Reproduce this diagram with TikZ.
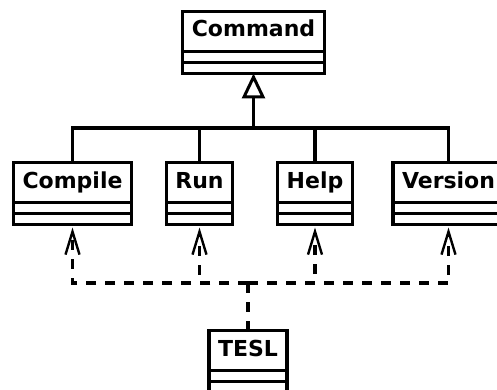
\documentclass[tikz,border=0pt]{standalone}
\usepackage{fontspec}
\setmainfont{DejaVu Sans}
\usetikzlibrary{arrows.meta}
\tikzset{
  cls/.style={draw, line width=3.2pt, outer sep=0pt, anchor=north,
    inner xsep=9pt, inner ysep=0pt, text height=25.5pt, text depth=36.5pt,
    font=\fontsize{22pt}{26pt}\selectfont\bfseries},
  inherit/.style={line width=3.2pt},
  depline/.style={line width=3.2pt, dash pattern=on 10pt off 9pt,
    -{Straight Barb[length=23pt,width=14pt,line width=2.4pt]}},
  depstem/.style={line width=3.2pt, dash pattern=on 10pt off 9pt},
}
\newcommand{\compartments}[1]{%
  \draw[line width=3.2pt] ([yshift=-40pt]#1.north west) -- ([yshift=-40pt]#1.north east);
  \draw[line width=3.2pt] ([yshift=-51pt]#1.north west) -- ([yshift=-51pt]#1.north east);}
\begin{document}
\begin{tikzpicture}[x=1pt,y=1pt]
\useasboundingbox (0,0) rectangle (497,-390);
\clip (0,0) rectangle (497,-390);
\node[cls] (command) at (253.5,-11.5) {Command};
\node[cls] (compile) at (72.5,-162.5) {Compile};
\node[cls] (run) at (199.5,-162.5) {Run};
\node[cls] (help) at (315,-162.5) {Help};
\node[cls] (version) at (448.5,-162.5) {Version};
\node[cls] (tesl) at (248,-330.5) {TESL};
\foreach \n in {command,compile,run,help,version,tesl}{\compartments{\n}}
\coordinate (bus) at (253.5,-128);
\foreach \n in {compile,run,help,version}{\draw[inherit] (\n.north) |- (bus);}
\draw[inherit, -{Triangle[open, fill=white, length=25pt, width=23pt, line width=3pt]}] (bus) -- (command.south);
\coordinate (dep) at (248,-283);
\draw[depstem] (tesl.north) -- (dep);
\foreach \n in {compile,run,help,version}{\draw[depline] (dep) -| ([yshift=-3pt]\n.south);}
\end{tikzpicture}
\end{document}
